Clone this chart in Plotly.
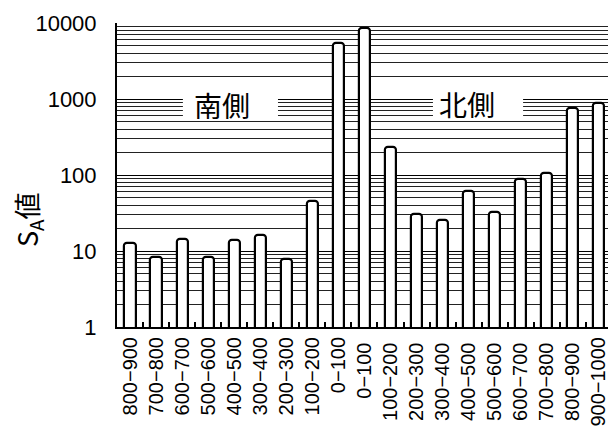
import plotly.graph_objects as go

categories = ["800−900", "700−800", "600−700", "500−600", "400−500", "300−400",
              "200−300", "100−200", "0−100",
              "0−100 ", "100−200 ", "200−300 ", "300−400 ", "400−500 ", "500−600 ",
              "600−700 ", "700−800 ", "800−900 ", "900−1000"]
values = [12.7, 8.3, 14.3, 8.3, 13.9, 16.2, 7.8, 46, 5500,
          8500, 236, 31, 25.6, 62, 33, 89, 105, 754, 890]
region_labels = ["南側", "北側"]
y_title = "S<sub>A</sub>値"

x_idx = list(range(len(categories)))
FONT = "Arial, Liberation Sans, sans-serif"
CJK = "Noto Sans CJK JP"

fig = go.Figure()
fig.add_trace(go.Bar(
    x=x_idx, y=values, width=0.43,
    marker=dict(color="white", line=dict(color="black", width=2.2)),
    marker_cornerradius=3,
))

fig.update_layout(
    width=608, height=431,
    margin=dict(l=117, r=0, t=23, b=104),
    paper_bgcolor="white", plot_bgcolor="white",
    showlegend=False,
    font=dict(family=FONT, color="black"),
    bargap=0,
)

fig.update_xaxes(
    range=[-0.5, 18.35], automargin=False,
    tickmode="array", tickvals=x_idx, ticktext=categories,
    tickangle=-90, tickfont=dict(size=20, family=FONT),
    ticklabeloverflow="allow",
    showgrid=False, showline=True, linecolor="black", linewidth=2,
    ticks="", zeroline=False,
    minor=dict(tickmode="array", tickvals=[i + 0.5 for i in x_idx], ticks="inside",
               ticklen=5, tickcolor="black", tickwidth=1.5),
)

fig.update_yaxes(
    type="log", range=[0, 4], automargin=False,
    tickvals=[1, 10, 100, 1000, 10000], ticktext=["1", "10", "100", "1000", "10000"],
    tickfont=dict(size=22, family=FONT),
    ticklabelstandoff=14,
    showgrid=True, gridcolor="black", gridwidth=1,
    minor=dict(tickvals=[m * 10 ** d for d in range(4) for m in range(2, 10)],
               showgrid=True, gridcolor="#222222", gridwidth=1, ticks=""),
    showline=True, linecolor="black", linewidth=2,
    ticks="", zeroline=False,
)

# y-axis title placed as rotated text
fig.add_annotation(xref="paper", yref="paper", x=(28 - 117) / 491, y=(327 - 220) / 304,
                   xanchor="center", yanchor="middle", text=y_title, textangle=-90,
                   showarrow=False, font=dict(size=27, family=CJK, color="black"))

# white boxes behind the region labels
fig.add_shape(type="rect", xref="x", yref="y", x0=2.03, x1=5.68, y0=525, y1=1410,
              fillcolor="white", line=dict(width=0), layer="above")
fig.add_shape(type="rect", xref="x", yref="y", x0=11.63, x1=15.09, y0=525, y1=1410,
              fillcolor="white", line=dict(width=0), layer="above")

fig.add_annotation(x=3.53, y=2.92, xref="x", yref="y", text=region_labels[0],
                   showarrow=False,
                   font=dict(size=28, family=CJK, color="black"))
fig.add_annotation(x=12.94, y=2.93, xref="x", yref="y", text=region_labels[1],
                   showarrow=False,
                   font=dict(size=28, family=CJK, color="black"))

fig.write_html("out.html", config={"displayModeBar": False},
               post_script="document.body.style.margin='0';document.body.style.padding='0';")
